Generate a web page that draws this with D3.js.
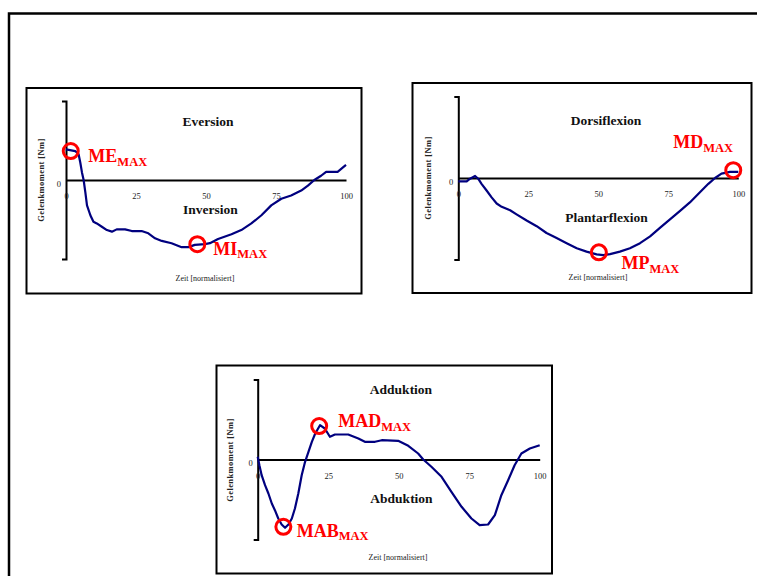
<!DOCTYPE html>
<html><head><meta charset="utf-8">
<script src="https://cdn.jsdelivr.net/npm/d3@7"></script>
<style>body{margin:0;background:#fff;}svg{display:block;}</style>
</head><body>
<script>
// ---------- DATA ----------
const xTickLabels = [0, 25, 50, 75, 100];
const yTickLabels = [0];

// Panel 1: Eversion / Inversion
const time1 = [0,3.3,4.5,5.1,5.7,6.3,6.9,7.5,8.7,9.8,11,12.8,14.6,16.4,18.1,21.1,23.5,27,29.4,31.8,34.2,37.7,41.3,43.7,46,49.6,51.4,54.3,59.1,62.6,66.2,69.8,73.3,76.9,80.4,84,86.4,88.7,91.1,92.9,97,100];
const moment1 = [31,29.3,26,17.7,7.7,0,-12.3,-25.7,-35.7,-42.3,-44,-47.3,-50.7,-52.3,-50,-50,-51.7,-51.7,-54,-59,-61.7,-64,-68,-68,-65.7,-65,-64,-59.7,-55,-50.7,-44,-35.7,-25.7,-19,-15.7,-10.7,-5.7,0,4.3,8.3,8.3,15.3];

// Panel 2: Dorsiflexion / Plantarflexion
const time2 = [0,3,4.2,6,7.1,8.3,10.1,11.9,13.7,15.5,18.5,20.8,24.4,28,31.5,35.1,38.7,42.3,45.8,49.4,51.8,54.2,57.7,61.3,64.9,68.5,72,75.6,79.2,82.7,86.3,89.3,91.7,94,97,100];
const moment2 = [-3.3,-3.3,-0.7,2,-0.7,-5.7,-12.3,-19,-25,-28.3,-31.7,-35.7,-41.7,-47.3,-54,-59,-64,-69,-72.3,-75,-75.7,-74.7,-72.3,-69,-64,-57.3,-49,-40.7,-32.3,-24,-14,-5.7,0,4.3,6,6];

// Panel 3: Adduktion / Abduktion
const time3 = [0,0.6,1.4,2.6,3.8,5,6.1,7.3,8.5,9.7,10.9,12.1,13.2,14.4,15.6,16.8,18,19.2,20.4,22.1,23.8,25.6,27.4,32.1,35.7,38,41.6,44,49.8,53.4,56.9,58.7,61.6,65.2,68.7,72.3,75.8,78.7,81.7,84.1,86.4,88.8,91.1,93.5,96.5,100];
const moment3 = [2.7,-5.7,-15.7,-25.7,-34,-44,-50.7,-59,-65,-68.3,-65,-59,-49,-34,-15.7,-2.3,7.7,17.7,26,34.3,31,22.7,25,25,21,17.7,17.7,19.3,18.7,13.7,6,0,-7.3,-17.3,-32.3,-47.3,-59,-65.7,-65,-55.7,-35.7,-20.7,-5.7,6,11,14.3];

// Region labels
const regionTop = ["Eversion", "Dorsiflexion", "Adduktion"];
const regionBottom = ["Inversion", "Plantarflexion", "Abduktion"];

// Marked maxima: [time, moment]
const markerNames1 = ["ME", "MI"];
const markerTime1 = [1.7, 46.9];
const markerMoment1 = [29.3, -65];
const markerNames2 = ["MD", "MP"];
const markerTime2 = [98.2, 50.2];
const markerMoment2 = [7.7, -73];
const markerNames3 = ["MAD", "MAB"];
const markerTime3 = [21.8, 9.1];
const markerMoment3 = [33.4, -67.3];

const yAxisTitle = "Gelenkmoment [Nm]";
const xAxisTitle = "Zeit [normalisiert]";

// ---------- LAYOUT ----------
const W = 757, H = 576;
const svg = d3.select("body").append("svg").attr("width", W).attr("height", H);
const SERIF = "'Liberation Serif','Times New Roman',serif";

// outer frame
svg.append("rect").attr("x", 9).attr("y", 13.5).attr("width", 800).attr("height", 700)
  .attr("fill", "none").attr("stroke", "#000").attr("stroke-width", 2.5);

const panels = [
  {box:[26.5, 88, 335, 205.5], ax:66, axW:280, top:101, bot:259,
   time:time1, moment:moment1, names:markerNames1, mt:markerTime1, mm:markerMoment1,
   topLbl:[208,126], botLbl:[210.5,214], yTitle:[41,180], xTitle:[205,281],
   lblOff:[[17.6,11],[16,10.7]]},
  {box:[412.5, 83, 339, 210], ax:458.3, axW:280, top:96.5, bot:259.5,
   time:time2, moment:moment2, names:markerNames2, mt:markerTime2, mm:markerMoment2,
   topLbl:[606,124.5], botLbl:[606.5,221.5], yTitle:[428,178], xTitle:[598,279.5],
   lblOff:[[-60,-21.7],[22.7,17]]},
  {box:[216.5, 365.5, 335.5, 208], ax:257.7, axW:282, top:379.5, bot:539.5,
   time:time3, moment:moment3, names:markerNames3, mt:markerTime3, mm:markerMoment3,
   topLbl:[401,393.5], botLbl:[401.5,503], yTitle:[230.5,460], xTitle:[398,560],
   lblOff:[[19,1],[13.4,10]]}
];

panels.forEach((p, i) => {
  const g = svg.append("g");
  g.append("rect").attr("x", p.box[0]).attr("y", p.box[1]).attr("width", p.box[2]).attr("height", p.box[3])
    .attr("fill", "#fff").attr("stroke", "#000").attr("stroke-width", 2);

  const x = d3.scaleLinear().domain([0, 100]).range([p.ax, p.ax + p.axW]);
  const y = d3.scaleLinear().domain([-80, 80]).range([p.bot, p.top]);

  // y axis
  const ya = g.append("g").attr("transform", `translate(${p.ax},0)`)
    .call(d3.axisLeft(y).tickValues(yTickLabels).tickSize(0).tickSizeOuter(4).tickPadding(5));
  ya.select(".domain").attr("stroke", "#000").attr("stroke-width", 2);
  ya.selectAll("text").attr("font-family", SERIF).attr("font-size", 8.5).attr("fill", "#222").attr("dy", "0.75em");

  // x axis at zero
  const xa = g.append("g").attr("transform", `translate(0,${y(0)})`)
    .call(d3.axisBottom(x).tickValues(xTickLabels).tickSize(0).tickSizeOuter(0).tickPadding(13));
  xa.select(".domain").attr("stroke", "#000").attr("stroke-width", 1.8);
  xa.selectAll("text").attr("font-family", SERIF).attr("font-size", 8.5).attr("fill", "#222");

  // titles
  g.append("text").attr("transform", `translate(${p.yTitle[0]},${p.yTitle[1]}) rotate(-90)`)
    .attr("text-anchor", "middle").attr("dy", "0.35em")
    .attr("font-family", SERIF).attr("font-size", 8.5).attr("font-weight", "bold").attr("letter-spacing", 0.4)
    .attr("fill", "#222").text(yAxisTitle);
  g.append("text").attr("x", p.xTitle[0]).attr("y", p.xTitle[1]).attr("text-anchor", "middle")
    .attr("font-family", SERIF).attr("font-size", 8).attr("fill", "#222").text(xAxisTitle);

  // region labels
  g.append("text").attr("x", p.topLbl[0]).attr("y", p.topLbl[1]).attr("text-anchor", "middle")
    .attr("font-family", SERIF).attr("font-size", 13.5).attr("font-weight", "bold").attr("fill", "#111").text(regionTop[i]);
  g.append("text").attr("x", p.botLbl[0]).attr("y", p.botLbl[1]).attr("text-anchor", "middle")
    .attr("font-family", SERIF).attr("font-size", 13.5).attr("font-weight", "bold").attr("fill", "#111").text(regionBottom[i]);

  // curve
  const pts = p.time.map((t, k) => [t, p.moment[k]]);
  g.append("path").datum(pts)
    .attr("d", d3.line().x(d => x(d[0])).y(d => y(d[1])))
    .attr("fill", "none").attr("stroke", "#00007f").attr("stroke-width", 2.2).attr("stroke-linejoin", "round");

  // markers
  p.names.forEach((n, k) => {
    const cx = x(p.mt[k]), cy = y(p.mm[k]);
    g.append("circle").attr("cx", cx).attr("cy", cy).attr("r", 7.5)
      .attr("fill", "none").attr("stroke", "#ff0000").attr("stroke-width", 3);
    const t = g.append("text").attr("x", cx + p.lblOff[k][0]).attr("y", cy + p.lblOff[k][1])
      .attr("font-family", SERIF).attr("font-weight", "bold").attr("fill", "#ff0000");
    t.append("tspan").attr("font-size", 18).text(n);
    t.append("tspan").attr("font-size", 12.5).attr("dy", 3.5).text("MAX");
  });
});
</script>
</body></html>
